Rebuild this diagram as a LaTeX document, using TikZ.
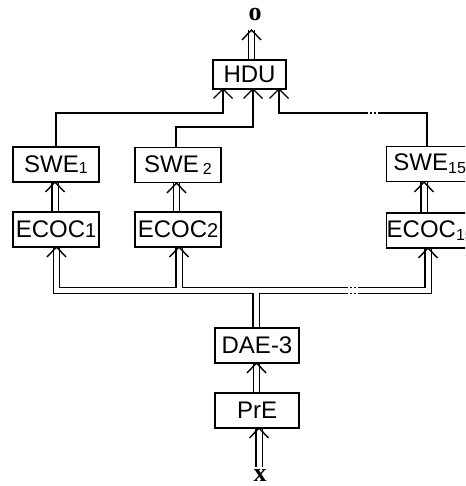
\documentclass[tikz,border=0pt]{standalone}
\usepackage{fontspec}
\setmainfont{Liberation Sans}
\newfontfamily\lserif{Liberation Serif}
\usetikzlibrary{backgrounds}
\tikzset{
  x=1pt,y=-1pt,
  blk/.style={draw,line width=1.4pt,fill=white,minimum width=86pt,minimum height=35pt,inner sep=0pt,
    font=\fontsize{24}{24}\selectfont},
  dblout/.style={line width=7.8pt,line join=miter},
  dblin/.style={line width=5pt,white,line join=miter},
  wire/.style={line width=1.4pt,line join=miter},
  vhead/.style={line width=1.4pt,line join=miter},
  lab/.style={font=\lserif\bfseries\fontsize{26}{26}\selectfont,inner sep=0pt},
}
\newcommand{\sbs}[1]{\raisebox{-3pt}{\fontsize{16}{16}\selectfont #1}}
\begin{document}
\begin{tikzpicture}
\useasboundingbox (0,0) rectangle (465,486);
\clip (0,0) rectangle (465,486);
% boxes
\node[blk,minimum width=73pt,minimum height=29pt] (hdu) at (249.5,74.5) {HDU};
\node[blk] (swe1) at (56,164.5) {SWE\raisebox{-1.5pt}{\fontsize{16}{16}\selectfont 1}};
\node[blk] (swe2) at (178,165) {SWE\,\raisebox{-1.5pt}{\fontsize{16}{16}\selectfont 2}};
\node[blk,anchor=west] (swe15) at (386,164) {SWE\sbs{15}};
\node[blk] (ecoc1) at (56,229.5) {ECOC\fontsize{20}{20}\selectfont 1};
\node[blk] (ecoc2) at (178,229.5) {ECOC\fontsize{20}{20}\selectfont 2};
\node[blk,anchor=west] (ecoc15) at (386,230.5) {ECOC\sbs{15}};
\node[blk,minimum width=84pt] (dae) at (257,345.5) {DAE-3};
\node[blk,minimum width=84pt] (pre) at (257,410.5) {PrE};
\node[lab] (o) at (255,15) {o};
\node[lab,anchor=base] (x) at (260,481) {x};
\coordinate (oend) at (251.5,30);
\coordinate (xend) at (259,467);

\begin{pgfonlayer}{background}
\foreach \p in {1,2}{
  \ifnum\p=1 \tikzset{dd/.style={dblout}}\else\tikzset{dd/.style={dblin}}\fi
  \draw[dd] (251.5,0 |- hdu.north) -- (oend);
  \draw[dd] (55,0 |- swe1.south) -- (55,0 |- ecoc1.north);
  \draw[dd] (176.5,0 |- swe2.south) -- (176.5,0 |- ecoc2.north);
  \draw[dd] (424,0 |- swe15.south) -- (424,0 |- ecoc15.north);
  \draw[dd] (56.5,0 |- ecoc1.south) -- (56.5,290.5) -- (428,290.5) -- (428,0 |- ecoc15.south);
  \draw[dd] (179,0 |- ecoc2.south) -- (179,290.5);
  \draw[dd] (256,290.5) -- (256,0 |- dae.north);
  \draw[dd] (256.5,0 |- dae.south) -- (256.5,0 |- pre.north);
  \draw[dd] (xend) -- (259,0 |- pre.south);
}
% single wires
\draw[wire] (56,0 |- swe1.north) -- (56,113) -- (223,113) -- (223,0 |- hdu.south);
\draw[wire] (176,0 |- swe2.north) -- (176,127) -- (253,127) -- (253,0 |- hdu.south);
\draw[wire] (427,0 |- swe15.north) -- (427,113) -- (279,113) -- (279,0 |- hdu.south);
% breaks
\fill[white] (367.5,109) rectangle (369.5,117);
\fill[white] (371.5,109) rectangle (373.5,117);
\fill[white] (375.5,109) rectangle (377.5,117);
\fill[white] (347.5,284) rectangle (349.5,298);
\fill[white] (351.5,284) rectangle (353.5,298);
\fill[white] (355.5,284) rectangle (357.5,298);
\end{pgfonlayer}
% arrowheads
\foreach \px/\py in {251.5/30, 55/182, 176.5/183, 424/182, 56.5/247, 179/247, 428/248, 256.5/363, 259/428}{
  \draw[vhead] (\px-9.5,\py+10) -- (\px,\py) -- (\px+9.5,\py+10);
}
\foreach \px in {223,253,279}{
  \draw[vhead] (\px-9.5,89+9.5) -- (\px,89) -- (\px+9.5,89+9.5);
}
\end{tikzpicture}
\end{document}
